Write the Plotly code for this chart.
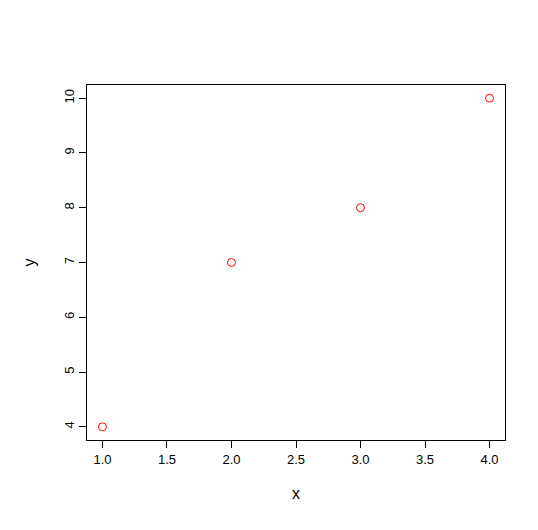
import plotly.graph_objects as go

x = [1, 2, 3, 4]
y = [4, 7, 8, 10]
xticks = [1.0, 1.5, 2.0, 2.5, 3.0, 3.5, 4.0]
yticks = [4, 5, 6, 7, 8, 9, 10]

fig = go.Figure(go.Scatter(x=x, y=y, mode="markers",
    marker=dict(symbol="circle-open", color="red", size=8, line=dict(width=1))))
fig.update_layout(
    width=538, height=530, plot_bgcolor="white", paper_bgcolor="white",
    margin=dict(l=79, r=41, t=77, b=98, pad=0), showlegend=False,
    font=dict(family="Liberation Sans, Arial", size=13, color="black"),
)
fig.update_xaxes(range=[0.88, 4.12], tickvals=xticks, ticktext=[f"{v:.1f}" for v in xticks],
    showgrid=False, zeroline=False, showline=True, mirror=True, linecolor="black",
    ticks="outside", ticklen=7, tickcolor="black", automargin=False,
    title=dict(text="x", standoff=22))
fig.update_yaxes(range=[3.76, 10.24], tickvals=yticks, tickangle=-90,
    showgrid=False, zeroline=False, showline=True, mirror=True, linecolor="black",
    ticks="outside", ticklen=7, tickcolor="black", automargin=False,
    title=dict(text="y", standoff=22))
fig.write_html("out.html")
